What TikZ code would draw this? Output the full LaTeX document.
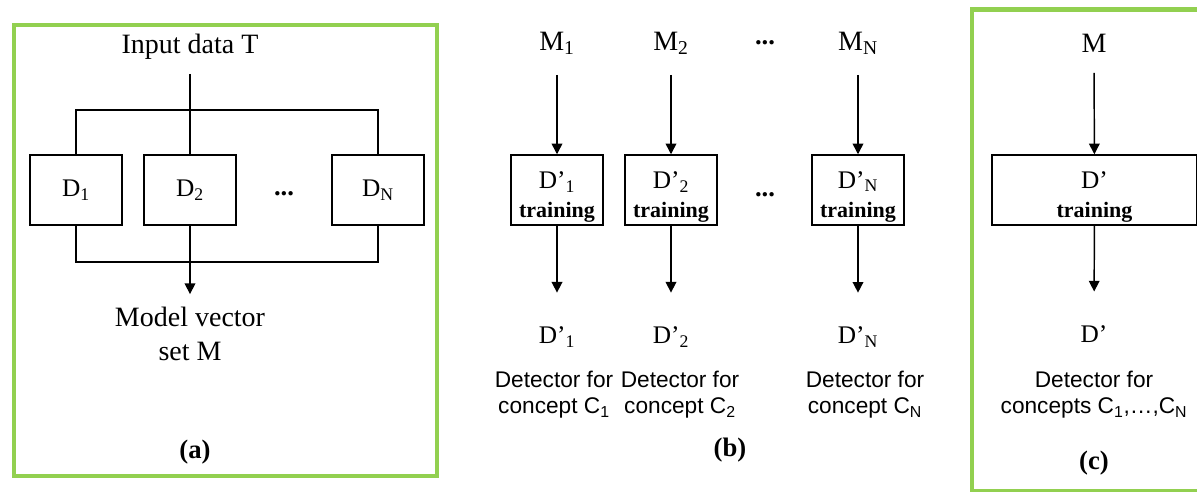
\documentclass[tikz,border=0pt]{standalone}
\usepackage{fontspec}
\setmainfont{Liberation Serif}
\setsansfont{Liberation Sans}
\usetikzlibrary{arrows.meta,positioning}
\definecolor{framegreen}{RGB}{146,208,80}
\newcommand{\boxstrut}{\rule{0pt}{23pt}}

\begin{document}
\begin{tikzpicture}[x=0.75pt, y=-0.75pt, >={Triangle[length=8pt,width=8pt]}, line width=1.1pt,
  frm/.style={draw=framegreen, line width=3.6pt},
  blk/.style={draw, minimum width=69pt, minimum height=52.5pt, inner sep=0pt, align=center,
    font=\fontsize{19}{22}\selectfont},
  lbl/.style={inner sep=0pt, align=center, font=\fontsize{21}{26}\selectfont},
  outl/.style={inner sep=0pt, font=\fontsize{19}{22}\selectfont},
  det/.style={inner sep=0pt, align=center, font=\sffamily\fontsize{17}{19.5}\selectfont},
  paneltag/.style={inner sep=0pt, font=\bfseries\fontsize{20}{24}\selectfont},
  inarr/.style={->, shorten <=15pt},
  outarr/.style={->, shorten >=25pt}]
\useasboundingbox (0,0) rectangle (1197,492);

% (a) parallel detectors
\draw[frm] (14,25) rectangle (437,476);
\node[lbl] (inp) at (190,47) {Input data T};
\coordinate (topbus) at (190,110);
\coordinate (botbus) at (190,262);
\node[blk] (d1) at (76,190) {D\textsubscript{1}};
\node[blk] (d2) at (190,190) {D\textsubscript{2}};
\node[blk] (dn) at (378,190) {D\textsubscript{N}};
\node[paneltag] (dotsa) at (284,194) {...};
\node[lbl] (model) at (190,334) {Model vector\\set M};
\node[paneltag] (taga) at (195,452) {(a)};
\draw[shorten <=10pt] (inp) -- (d2);
\draw (d1.north) |- (topbus) -| (dn.north);
\draw (d1.south) |- (botbus) -| (dn.south);
\draw (d2) -- (botbus);
\draw[->, shorten >=9pt] (botbus) -- (model);

% (b) one detector per concept
\foreach \k/\x/\cx in {1/557/554,2/671/680,N/858/865}{
  \node[lbl] (m\k) at (\x,43) {M\textsubscript{\k}};
  \node[blk] (t\k) at (\x,190) {\boxstrut D’\textsubscript{\k}\\{\bfseries\fontsize{16.5}{22}\selectfont training}};
  \node[outl] (o\k) at (\x,337) {D’\textsubscript{\k}};
  \node[det] (c\k) at (\cx,395) {Detector for\\concept C\textsubscript{\k}};
  \draw[inarr] (m\k) -- (t\k);
  \draw[outarr] (t\k) -- (o\k);
}
\node[paneltag] (dotsb) at (765,43) {...};
\node[paneltag] (dotsc) at (765,195) {...};
\node[paneltag] (tagb) at (730,450) {(b)};

% (c) one detector for all concepts
\draw[frm] (1202,9.5) -- (972,9.5) -- (972,491) -- (1202,491);
\node[lbl] (mc) at (1094,43) {M};
\node[blk, minimum width=153.75pt] (tc) at (1094.5,190) {\boxstrut D’\\{\bfseries\fontsize{16.5}{22}\selectfont training}};
\node[outl] (oc) at (1094,334) {D’};
\node[det] (cc) at (1094,395) {Detector for\\concepts C\textsubscript{1},…,C\textsubscript{N}};
\node[paneltag] (tagc) at (1094,463) {(c)};
\draw[inarr] (mc) -- (tc);
\draw[outarr] (tc) -- (oc);
\end{tikzpicture}
\end{document}
